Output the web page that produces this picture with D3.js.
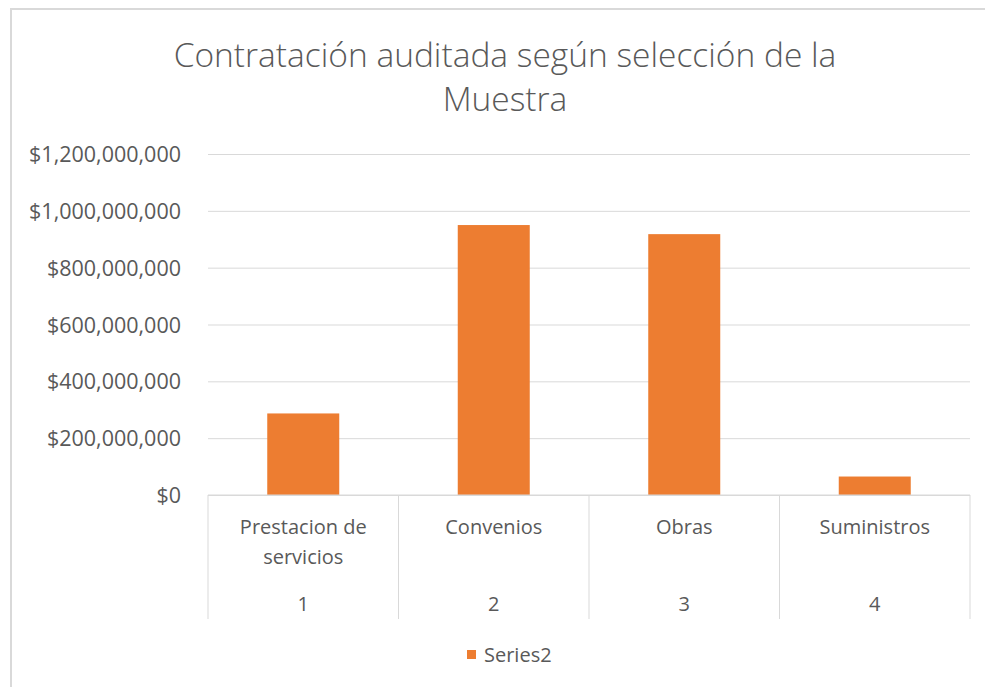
<!DOCTYPE html>
<html lang="es">
<head>
    <meta charset="UTF-8">
    <title>Contratación auditada según selección de la Muestra</title>
    <style>
        body {
            margin: 0;
            background: #fff;
            font-family: 'Open Sans', sans-serif;
        }
        svg {
            display: block;
        }
        .grid line {
            stroke: #d9d9d9;
            stroke-width: 1;
        }
        .label {
            fill: #595959;
        }
    </style>
</head>
<body>
    <svg width="985" height="687"></svg>
    <script src="https://d3js.org/d3.v7.min.js"></script>
    <script>
        // Data
        const categories = ["Prestacion de servicios", "Convenios", "Obras", "Suministros"];
        const categoryLines = [["Prestacion de", "servicios"], ["Convenios"], ["Obras"], ["Suministros"]];
        const groupLabels = ["1", "2", "3", "4"];
        const values = [287000000, 950000000, 918000000, 65000000];
        const yTicks = [0, 200000000, 400000000, 600000000, 800000000, 1000000000, 1200000000];
        const seriesName = "Series2";

        const width = 985, height = 687;
        const plot = { left: 208, right: 970, top: 154, bottom: 495 };
        const barColor = "#ED7D31";

        const svg = d3.select("svg");

        // chart border (top and left visible in the picture)
        svg.append("rect")
            .attr("x", 11).attr("y", 9)
            .attr("width", width + 20).attr("height", height + 20)
            .attr("fill", "#fff")
            .attr("stroke", "#d9d9d9")
            .attr("stroke-width", 2);

        // title
        const title = svg.append("text")
            .attr("class", "label")
            .attr("text-anchor", "middle")
            .style("font-size", "33.5px")
            .style("font-weight", 300);
        title.append("tspan").attr("x", 505).attr("y", 67).text("Contratación auditada según selección de la");
        title.append("tspan").attr("x", 505).attr("y", 111).text("Muestra");

        const x = d3.scaleBand()
            .domain(categories)
            .range([plot.left, plot.right])
            .paddingInner(0)
            .paddingOuter(0);

        const y = d3.scaleLinear()
            .domain([0, 1200000000])
            .range([plot.bottom, plot.top]);

        const fmt = v => "$" + d3.format(",")(v);

        // gridlines + y labels
        const yAxis = d3.axisLeft(y)
            .tickValues(yTicks)
            .tickSize(-(plot.right - plot.left))
            .tickPadding(27)
            .tickFormat(fmt);

        const gy = svg.append("g")
            .attr("class", "grid")
            .attr("transform", `translate(${plot.left},0)`)
            .call(yAxis);
        gy.select(".domain").remove();
        gy.selectAll("text")
            .attr("class", "label")
            .style("font-size", "21.5px")
            .style("font-family", "'Open Sans', sans-serif")
            .attr("dy", "0.35em");

        // bars
        const barWidth = 72;
        svg.append("g")
            .selectAll("rect")
            .data(values)
            .join("rect")
            .attr("x", (d, i) => x(categories[i]) + x.bandwidth() / 2 - barWidth / 2)
            .attr("y", d => y(d))
            .attr("width", barWidth)
            .attr("height", d => y(0) - y(d))
            .attr("fill", barColor);

        // baseline of category axis
        svg.append("line")
            .attr("x1", plot.left).attr("x2", plot.right)
            .attr("y1", y(0)).attr("y2", y(0))
            .attr("stroke", "#d9d9d9");

        // multi-level category separators
        const seps = categories.map(c => x(c)).concat([plot.right]);
        svg.append("g")
            .selectAll("line")
            .data(seps)
            .join("line")
            .attr("x1", d => d).attr("x2", d => d)
            .attr("y1", y(0)).attr("y2", 619)
            .attr("stroke", "#d9d9d9");

        // category labels
        const catG = svg.append("g")
            .selectAll("text")
            .data(categories)
            .join("text")
            .attr("class", "label")
            .attr("text-anchor", "middle")
            .style("font-size", "20px");
        catG.each(function(c, i) {
            const t = d3.select(this);
            categoryLines[i].forEach((line, j) => {
                t.append("tspan")
                    .attr("x", x(c) + x.bandwidth() / 2)
                    .attr("y", 534 + j * 30)
                    .text(line);
            });
        });

        // group number labels
        svg.append("g")
            .selectAll("text")
            .data(groupLabels)
            .join("text")
            .attr("class", "label")
            .attr("text-anchor", "middle")
            .style("font-size", "20px")
            .attr("x", (d, i) => x(categories[i]) + x.bandwidth() / 2)
            .attr("y", 611)
            .text(d => d);

        // legend
        const legend = svg.append("g").attr("transform", "translate(467,650)");
        legend.append("rect")
            .attr("width", 9).attr("height", 9)
            .attr("fill", barColor);
        legend.append("text")
            .attr("class", "label")
            .attr("x", 17).attr("y", 5)
            .attr("dy", "0.35em")
            .style("font-size", "20px")
            .text(seriesName);
    </script>
</body>
</html>
